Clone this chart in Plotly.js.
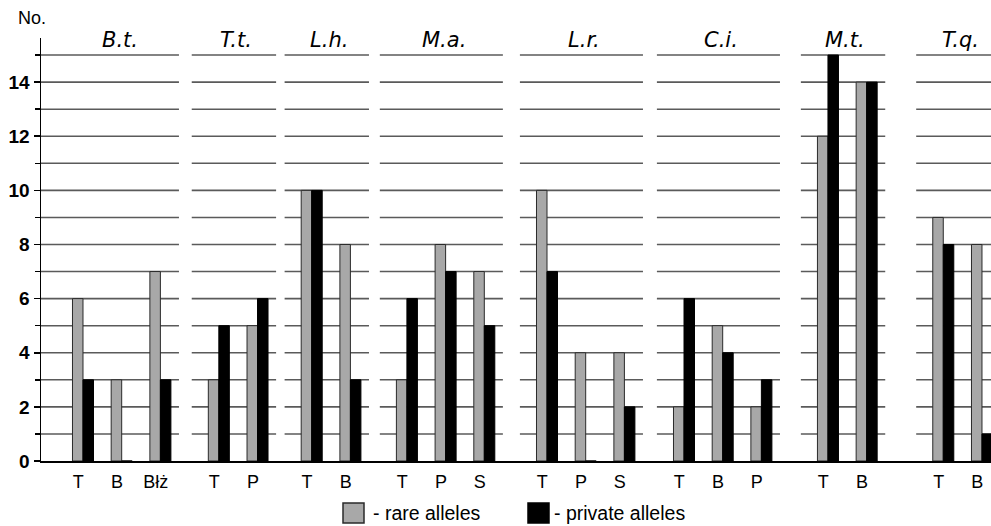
<!DOCTYPE html>
<html>
<head>
<meta charset="utf-8">
<script src="https://cdn.plot.ly/plotly-3.0.1.min.js"></script>
<style>html,body{margin:0;padding:0;background:#fff}#chart{width:991px;height:526px}</style>
</head>
<body>
<div id="chart"></div>
<script>
// ---- data ----
const groupNames = ['B.t.', 'T.t.', 'L.h.', 'M.a.', 'L.r.', 'C.i.', 'M.t.', 'T.q.'];
const siteLabels = [['T', 'B', 'Błż'], ['T', 'P'], ['T', 'B'], ['T', 'P', 'S'], ['T', 'P', 'S'], ['T', 'B', 'P'], ['T', 'B'], ['T', 'B']];
const rareAlleles = [[6, 3, 7], [3, 5], [10, 8], [3, 8, 7], [10, 4, 4], [2, 5, 2], [12, 14], [9, 8]];
const privateAlleles = [[3, 0, 3], [5, 6], [10, 3], [6, 7, 5], [7, 0, 2], [6, 4, 3], [15, 14], [8, 1]];
const yTickVals = [0, 2, 4, 6, 8, 10, 12, 14];
const seriesNames = ['rare alleles', 'private alleles'];

// ---- layout constants ----
const W = 991, H = 526;
const M = {l: 41, r: 0, t: 38, b: 65};
const GROUP_GAPS = [0, 0.51, 0.40, 0.46, 0.62, 0.54, 0.72, 0.98]; // extra space before each group
const X0 = -1.085, X1 = 23.463;
const YMAX = 15.63;
const FONT = 'Liberation Sans, Arial, sans-serif';
const TITLE_FONT = 'DejaVu Sans, Liberation Sans, sans-serif';
const GRID = '#5a5a5a';

// positions computed from category order
const xs = [], tickText = [], rareFlat = [], privFlat = [];
const groupInfo = [];
let cursor = 0;
siteLabels.forEach((sites, g) => {
  if (g > 0) cursor += 1 + GROUP_GAPS[g];
  const pos = [];
  sites.forEach((s, i) => {
    if (i > 0) cursor += 1;
    xs.push(cursor); pos.push(cursor);
    tickText.push(s);
    rareFlat.push(rareAlleles[g][i]);
    privFlat.push(privateAlleles[g][i]);
  });
  groupInfo.push(pos);
});

const traces = [
  {type: 'bar', name: seriesNames[0], x: xs, y: rareFlat,
   marker: {color: '#a8a8a8', line: {color: '#2a2a2a', width: 1}}, showlegend: false},
  {type: 'bar', name: seriesNames[1], x: xs, y: privFlat,
   marker: {color: '#000000', line: {color: '#000000', width: 1}}, showlegend: false}
];

const shapes = [];
const annotations = [];
groupInfo.forEach((pos, g) => {
  const first = pos[0], last = pos[pos.length - 1];
  const start = g === 0 ? X0 : first - 0.7;
  const end = last + 0.48;
  for (let v = 1; v <= 15; v++) {
    shapes.push({type: 'line', layer: 'below', xref: 'x', yref: 'y',
      x0: start, x1: end, y0: v, y1: v, line: {color: GRID, width: 1.6}});
  }
  const mid = pos.reduce((a, b) => a + b, 0) / pos.length;
  annotations.push({xref: 'x', yref: 'y', x: mid - 0.05, y: 15.55, yanchor: 'middle', xanchor: 'center',
    text: '<i>' + groupNames[g] + '</i>', showarrow: false,
    font: {family: TITLE_FONT, size: 21, color: '#000'}});
});

// pixel -> paper helpers for the hand-drawn legend
const pw = W - M.l - M.r, ph = H - M.t - M.b;
const px2x = p => (p - M.l) / pw;
const px2y = p => (H - M.b - p) / ph;

annotations.push({xref: 'paper', yref: 'paper', x: px2x(32), y: px2y(18), xanchor: 'center', yanchor: 'middle',
  text: 'No.', showarrow: false, font: {family: FONT, size: 18, color: '#000'}});

// legend boxes
const legendItems = [
  {x0: 343, x1: 364, color: '#a8a8a8', line: '#2a2a2a', tx: 371, text: '- ' + seriesNames[0]},
  {x0: 528, x1: 549, color: '#000', line: '#000', tx: 552, text: '- ' + seriesNames[1]}
];
legendItems.forEach(it => {
  shapes.push({type: 'rect', xref: 'paper', yref: 'paper',
    x0: px2x(it.x0), x1: px2x(it.x1), y0: px2y(523), y1: px2y(503),
    fillcolor: it.color, line: {color: it.line, width: 1.5}});
  annotations.push({xref: 'paper', yref: 'paper', x: px2x(it.tx), y: px2y(513), xanchor: 'left', yanchor: 'middle',
    text: it.text, showarrow: false, font: {family: FONT, size: 19.5, color: '#000'}});
});

const layout = {
  width: W, height: H,
  margin: M,
  paper_bgcolor: '#fff', plot_bgcolor: '#fff',
  barmode: 'group', bargap: 0.457, bargroupgap: 0,
  showlegend: false,
  xaxis: {
    range: [X0, X1], showgrid: false, zeroline: false,
    showline: true, linecolor: '#000', linewidth: 1.5,
    tickmode: 'array', tickvals: xs.map(x => x - 0.12), ticktext: tickText,
    ticks: '', ticklabelstandoff: 4,
    tickfont: {family: FONT, size: 18, color: '#000'}
  },
  yaxis: {
    range: [0, YMAX], showgrid: false, zeroline: false,
    showline: true, linecolor: '#000', linewidth: 1.5,
    tickmode: 'array', tickvals: yTickVals,
    ticks: 'outside', ticklen: 6, tickwidth: 1.5, tickcolor: '#000',
    minor: {dtick: 1, ticks: 'outside', ticklen: 5, tickwidth: 1.5, tickcolor: '#000', showgrid: false},
    tickfont: {family: FONT, size: 19, color: '#000', weight: 'bold'}
  },
  shapes: shapes,
  annotations: annotations
};

Plotly.newPlot('chart', traces, layout, {displayModeBar: false, staticPlot: true});
</script>
</body>
</html>
